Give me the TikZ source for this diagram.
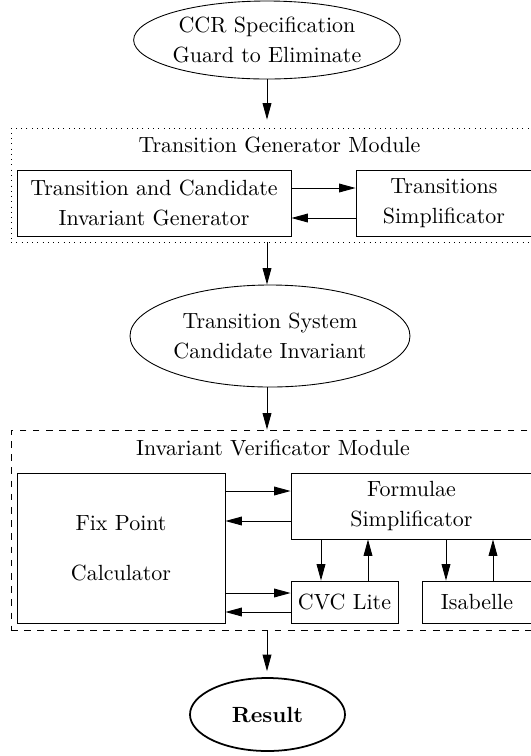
\documentclass[tikz,border=0pt]{standalone}
\usetikzlibrary{shapes.geometric,arrows.meta}
\begin{document}
\begin{tikzpicture}[x=0.455pt,y=-0.455pt,
    font=\linespread{1.1375}\selectfont,
    every node/.style={align=center, inner sep=0pt},
    dims/.style 2 args={minimum width=#1*0.455pt, minimum height=#2*0.455pt},
    box/.style={draw, rectangle},
    blob/.style={draw, ellipse},
    >={Triangle[length=7.5pt,width=4pt]}]
  \useasboundingbox (0,0) rectangle (531,756);
  \clip (0,0) rectangle (531,756);
  \draw
    (278,185) node[box, dotted, dims={534}{114}] (tgm){}
    (278,530) node[box, dashed, dims={534}{200}] (ivm){}
    (279.5,145) node (tgmlabel){Transition Generator Module}
    (273,448) node (ivmlabel){Invariant Verificator Module}
    (267,40) node[blob, dims={250}{78}] (spec){CCR Specification\\Guard to Eliminate}
    (154,203) node[box, dims={274}{66}] (gen){Transition and Candidate\\Invariant Generator}
    (444,203) node[box, dims={176}{66}] (simp){Transitions\\Simplificator}
    (270,336) node[blob, dims={280}{102}] (tsys){Transition System\\Candidate Invariant}
    (121,548) node[box, dims={208}{150}] (fix){Fix Point\\[9pt]Calculator}
    (411.5,506) node[box, dims={241}{66}] (form){Formulae\\Simplificator}
    (344.5,602) node[box, dims={107}{42}] (cvc){CVC Lite}
    (477,602) node[box, dims={110}{42}] (isa){Isabelle}
    (267.5,714.5) node[blob, thick, dims={155}{73}] (res){\textbf{Result}};
  \begin{scope}[->]
    \draw[shorten >=3.6pt] (spec.south) to (spec.south |- tgm.north);
    \draw (spec.south |- tgm.south) to (spec.south |- tsys.north);
    \draw (spec.south |- tsys.south) to (spec.south |- ivm.north);
    \draw[shorten >=2.7pt] (spec.south |- ivm.south) to (spec.south |- res.north);
    \draw (gen.east |- 0,188) to (simp.west |- 0,188);
    \draw (simp.west |- 0,218) to (gen.east |- 0,218);
    \draw (fix.east |- 0,491) to (form.west |- 0,491);
    \draw (form.west |- 0,521) to (fix.east |- 0,521);
    \draw (fix.east |- 0,593) to (cvc.west |- 0,593);
    \draw (cvc.west |- 0,612) to (fix.east |- 0,612);
    \draw (form.south -| 321,0) to (cvc.north -| 321,0);
    \draw (cvc.north -| 368,0) to (form.south -| 368,0);
    \draw (form.south -| 446,0) to (isa.north -| 446,0);
    \draw (isa.north -| 493,0) to (form.south -| 493,0);
  \end{scope}
\end{tikzpicture}
\end{document}
